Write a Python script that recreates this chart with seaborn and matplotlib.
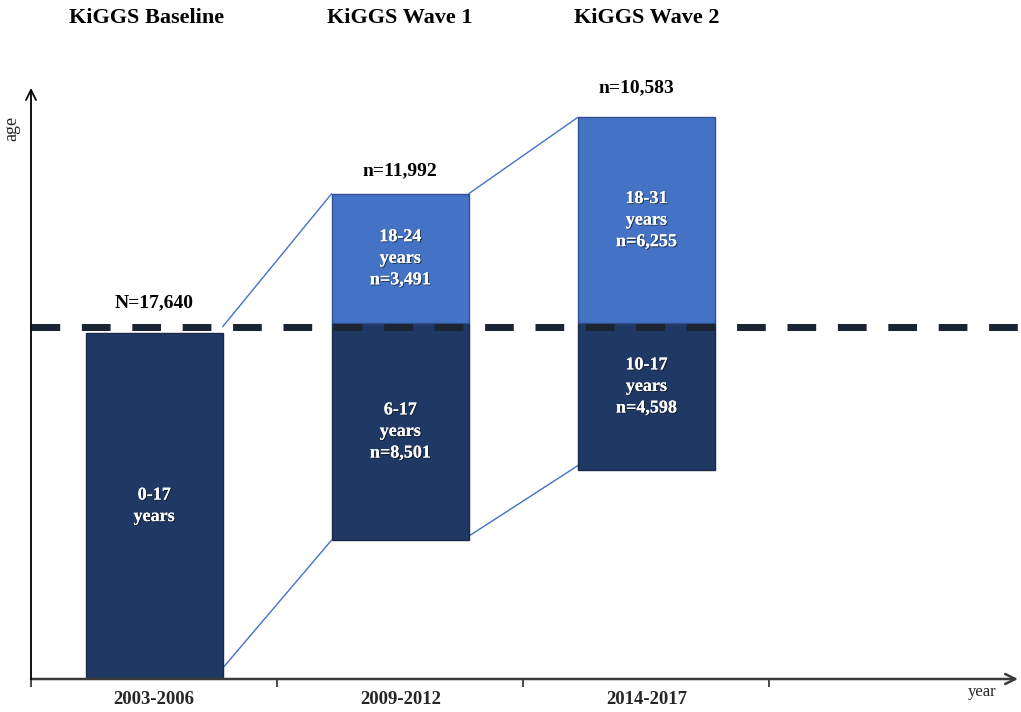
import numpy as np
import pandas as pd
import matplotlib
matplotlib.use("Agg")
import matplotlib.pyplot as plt
import matplotlib.patheffects as pe
import seaborn as sns

# Studienwellen und Zeitraeume
waves = ["KiGGS Baseline", "KiGGS Wave 1", "KiGGS Wave 2"]
periods = ["2003-2006", "2009-2012", "2014-2017"]
totals = ["N=17,640", "n=11,992", "n=10,583"]

# Segmente auf einer schematischen Altersskala (Linie bei 18)
minor_bottom = [0.0, 7.1, 10.7]
minor_top = [17.7, 18.2, 18.2]
minor_text = ["0-17\nyears", "6-17\nyears\nn=8,501", "10-17\nyears\nn=4,598"]

adult_bottom = [18.2, 18.2]
adult_top = [24.8, 28.7]
adult_text = ["18-24\nyears\nn=3,491", "18-31\nyears\nn=6,255"]

# Verbindungslinien zwischen den Wellen (Start- und Endhoehe)
link_low = [(0.55, 7.1), (7.3, 10.9)]
link_high = [(18.0, 24.8), (24.8, 28.7)]

ADULT_AGE = 18
DARK = "#203864"
LIGHT = "#4472c4"
BAR_W = 0.557

sns.set_style("white")
plt.rcParams["font.family"] = ["Liberation Serif", "DejaVu Serif"]

fig = plt.figure(figsize=(10.21, 7.12), dpi=100)
ax = fig.add_axes([31 / 1021, 33 / 712, 987 / 1021, 591 / 712])

dark_df = pd.DataFrame({"period": periods,
                        "height": np.array(minor_top) - np.array(minor_bottom)})
light_df = pd.DataFrame({"period": periods[1:],
                         "height": np.array(adult_top) - np.array(adult_bottom)})

sns.barplot(data=dark_df, x="period", y="height", order=periods, bottom=minor_bottom,
            color=DARK, saturation=1, width=BAR_W, edgecolor="#18294a", linewidth=1,
            errorbar=None, ax=ax, zorder=2)
sns.barplot(data=light_df, x="period", y="height", order=periods, bottom=adult_bottom,
            color=LIGHT, saturation=1, width=BAR_W, edgecolor="#2f528f", linewidth=1,
            errorbar=None, ax=ax, zorder=2)

# Verbindungslinien
for i in range(len(link_low)):
    x0, x1 = i + BAR_W / 2, i + 1 - BAR_W / 2
    for y0, y1 in (link_low[i], link_high[i]):
        ax.plot([x0, x1], [y0, y1], color=LIGHT, lw=1, zorder=1)

# gestrichelte Linie bei 18 Jahren
ax.axhline(ADULT_AGE, color="#1b2432", lw=5.04, dashes=(4.1, 3.1),
           dash_capstyle="butt", zorder=3, clip_on=False)

# Beschriftung in den Balken
shadow = [pe.withSimplePatchShadow(offset=(0.8, -0.8), shadow_rgbFace="#111111", alpha=0.6),
          pe.Normal()]
minor_shift = [0, 0, 0.5]
for i, txt in enumerate(minor_text):
    ax.text(i, (minor_bottom[i] + minor_top[i]) / 2 + minor_shift[i], txt,
            ha="center", va="center", color="white", fontsize=13, fontweight="bold",
            linespacing=1.35, zorder=4, path_effects=shadow)
for i, txt in enumerate(adult_text):
    ax.text(i + 1, (adult_bottom[i] + adult_top[i]) / 2, txt, ha="center", va="center",
            color="white", fontsize=13, fontweight="bold", linespacing=1.35,
            zorder=4, path_effects=shadow)

# Stichprobengroessen ueber den Balken
tops = [minor_top[0]] + adult_top
gaps = [18, 13, 18]
nudge = [0, 0, -0.04]
for i, txt in enumerate(totals):
    ax.annotate(txt, (i + nudge[i], tops[i]), xytext=(0, gaps[i]), textcoords="offset points",
                ha="center", va="baseline", fontsize=14, fontweight="bold", color="black")

# Titel der Wellen
for i, w in enumerate(waves):
    ax.text(i - (0.03 if i == 0 else 0), 1.118, w, transform=ax.get_xaxis_transform(),
            ha="center", va="center", fontsize=16, fontweight="bold", color="black")

ax.set_xlim(-0.5, 3.51)
ax.set_ylim(0, 30.2)
sns.despine(ax=ax, left=True, bottom=True)

ax.set_xticks(range(len(periods)))
ax.set_xticklabels(periods, fontsize=13.5, fontweight="bold")
ax.set_xticks([-0.5, 0.5, 1.5, 2.5], minor=True)
ax.tick_params(axis="x", which="major", bottom=False, length=0, pad=9)
ax.tick_params(axis="x", which="minor", bottom=True, length=6, width=1.3,
               color="#3a3a3a", direction="out")
ax.set_yticks([])
ax.set_xlabel("")
ax.set_ylabel("")

# Achsen als Pfeile
ax.annotate("", xy=(1, 0), xytext=(0, 0), xycoords="axes fraction",
            arrowprops=dict(arrowstyle="->", color="#3a3a3a", lw=1.8, mutation_scale=18,
                            shrinkA=0, shrinkB=0), zorder=5)
ax.annotate("", xy=(0, 1), xytext=(0, 0), xycoords="axes fraction",
            arrowprops=dict(arrowstyle="->", color="black", lw=1.3, mutation_scale=18,
                            shrinkA=0, shrinkB=0), zorder=5)

fig.text(12 / 1021, 1 - 128 / 712, "age", rotation=90, ha="center", va="center", fontsize=13)
fig.text(982 / 1021, 1 - 692 / 712, "year", ha="center", va="center", fontsize=12)

fig.savefig("out.png", dpi=100)
